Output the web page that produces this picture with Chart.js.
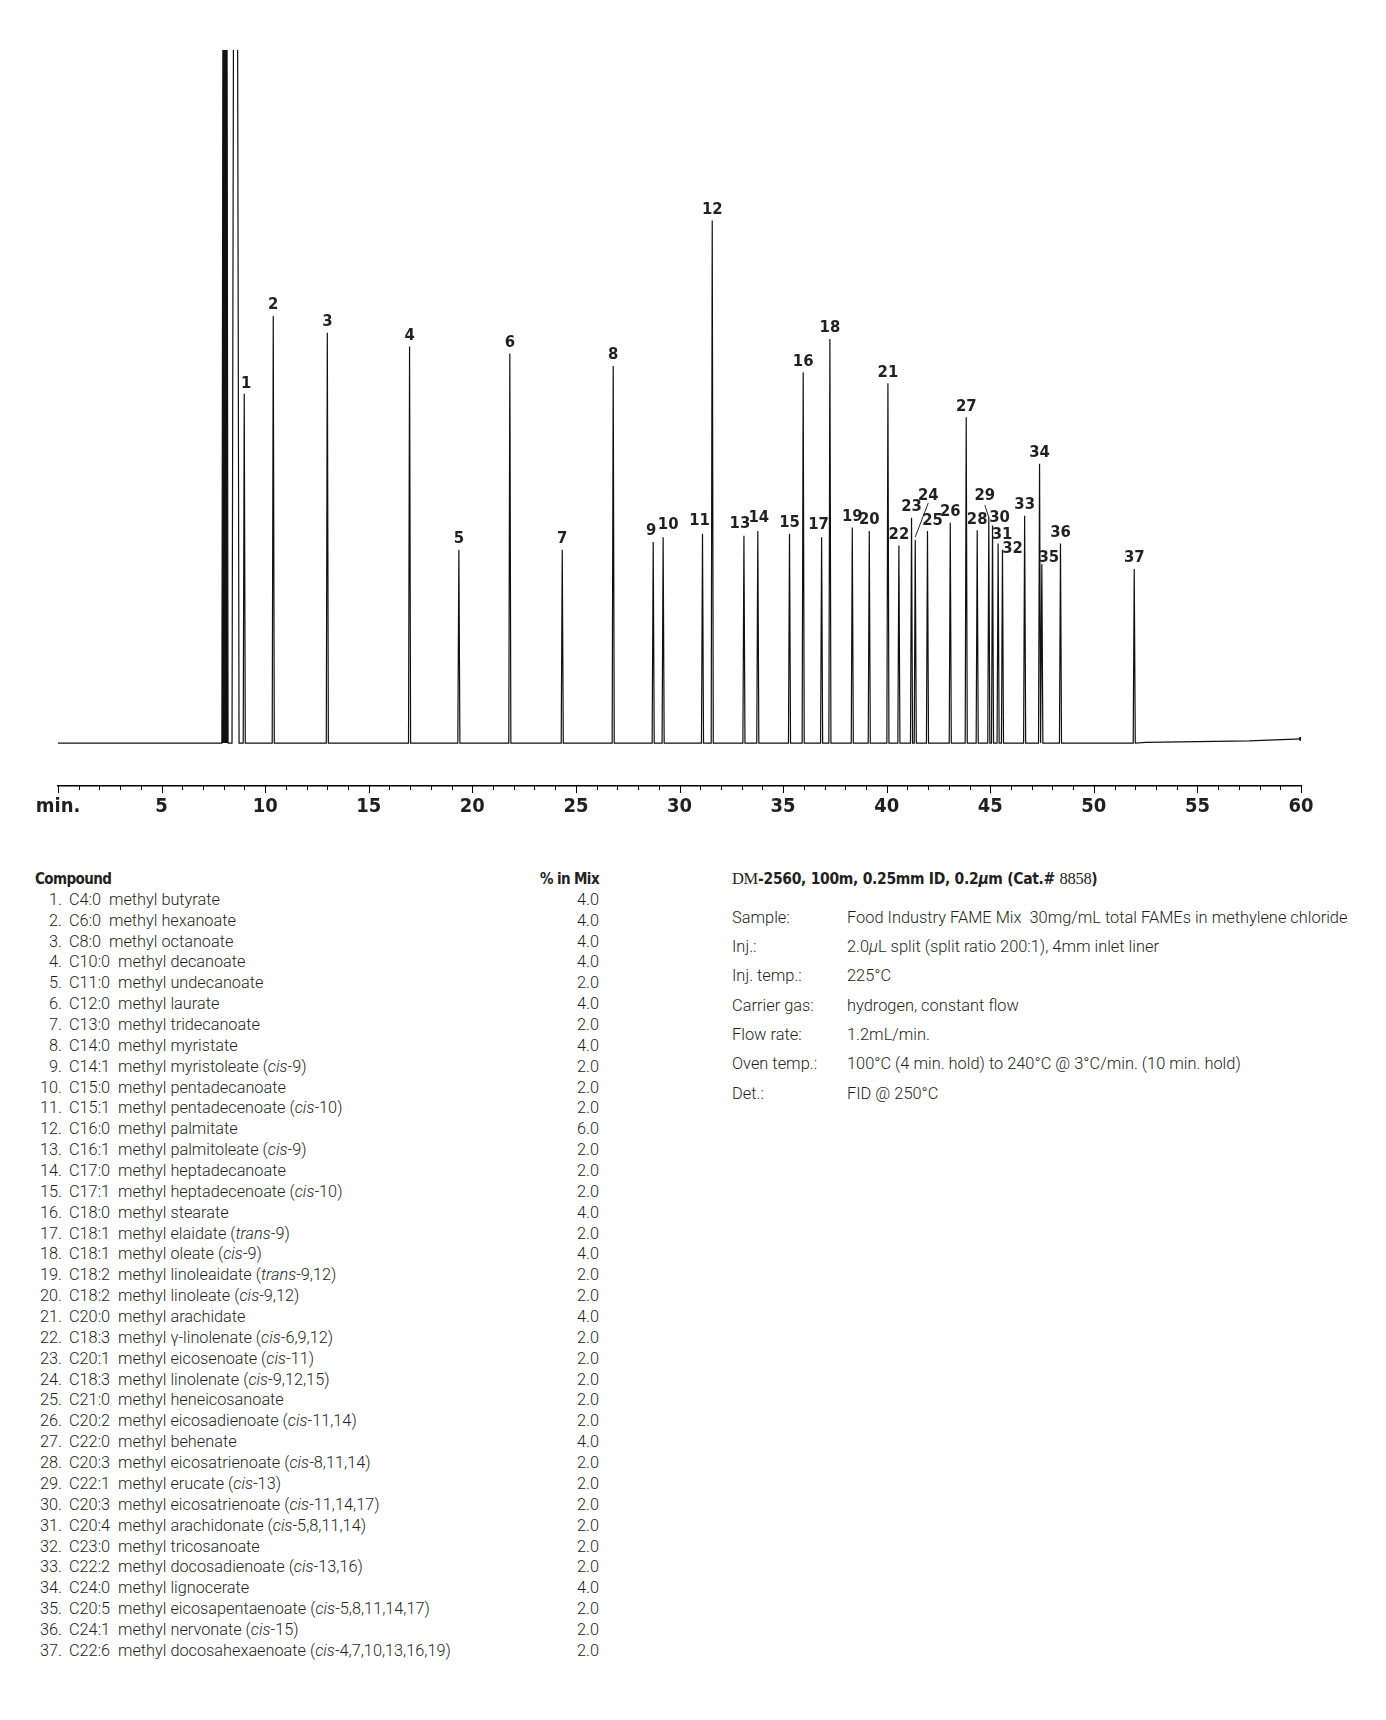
<!DOCTYPE html>
<html>
<head>
<meta charset="utf-8">
<script src="https://cdn.jsdelivr.net/npm/chart.js@4.4.1/dist/chart.umd.min.js"></script>
<style>
  body { margin: 0; background: #fff; width: 1386px; height: 1720px; position: relative; color: #231f20;
         font-family: Roboto, "DejaVu Sans Condensed", sans-serif; font-weight: 300; }
  #wrap { position: absolute; left: 0; top: 0; width: 1386px; height: 840px; }
  #compounds { position: absolute; left: 0; top: 869px; width: 620px; font-size: 16.3px; }
  #compounds .row { position: relative; height: 20.87px; line-height: 20.87px; white-space: pre; }
  #compounds .num { display: inline-block; width: 62px; text-align: right; }
  #compounds .txt { margin-left: 7px; }
  #compounds .pct { position: absolute; right: 21px; top: 0; }
  #compounds .head { font-family: "DejaVu Sans Condensed", sans-serif; font-weight: bold; font-size: 15px; letter-spacing: -0.6px; }
  #compounds .head .left { position: absolute; left: 35px; }
  #info { position: absolute; left: 732px; top: 864px; font-size: 16.4px; }
  #info .title { font-family: "DejaVu Sans Condensed", sans-serif; font-weight: bold; font-size: 15.5px;
                 letter-spacing: -0.3px; height: 38.5px; line-height: 30px; }
  #info .title .serif { font-family: "Liberation Serif", "DejaVu Serif", serif; font-weight: normal; font-size: 16.5px; }
  #info .row { height: 29.4px; line-height: 29.4px; white-space: pre; }
  #info .lab { display: inline-block; width: 115px; }
</style>
</head>
<body>
<div id="wrap"><canvas id="chart" width="1386" height="840"></canvas></div>
<div id="compounds"></div>
<div id="info"></div>
<script>
// retention time (min) and height (% of full scale) of each numbered peak
const retentionTimes = [8.99, 10.39, 13.00, 16.97, 19.35, 21.81, 24.34, 26.80, 28.73, 29.21,
  31.11, 31.58, 33.11, 33.78, 35.31, 35.97, 36.86, 37.26, 38.34, 39.16,
  40.06, 40.59, 41.20, 41.38, 41.97, 43.07, 43.84, 44.37, 44.93, 45.11,
  45.38, 45.59, 46.66, 47.38, 47.49, 48.39, 51.95];
const peakHeights = [50.4, 61.6, 59.2, 57.2, 27.9, 56.2, 27.9, 54.4, 29.0, 29.7,
  30.2, 75.4, 29.9, 30.6, 30.2, 53.5, 29.7, 58.3, 31.1, 30.6,
  51.9, 28.5, 32.5, 29.3, 30.6, 31.8, 47.0, 30.7, 32.6, 31.4,
  28.8, 27.9, 32.8, 40.3, 25.8, 28.8, 25.1];
// solvent peaks, off scale
const solventTimes = [8.06, 8.57];
const solventHeights = [300, 250];
// baseline drift at the end of the run
const baselineTimes = [0, 52.5, 57.5, 60];
const baselineLevels = [0, 0.1, 0.3, 0.6];

const tickLabels = ['min.', '5', '10', '15', '20', '25', '30', '35', '40', '45', '50', '55', '60'];

const formulas = ['C4:0', 'C6:0', 'C8:0', 'C10:0', 'C11:0', 'C12:0', 'C13:0', 'C14:0', 'C14:1', 'C15:0',
  'C15:1', 'C16:0', 'C16:1', 'C17:0', 'C17:1', 'C18:0', 'C18:1', 'C18:1', 'C18:2', 'C18:2',
  'C20:0', 'C18:3', 'C20:1', 'C18:3', 'C21:0', 'C20:2', 'C22:0', 'C20:3', 'C22:1', 'C20:3',
  'C20:4', 'C23:0', 'C22:2', 'C24:0', 'C20:5', 'C24:1', 'C22:6'];
const compoundNames = ['methyl butyrate', 'methyl hexanoate', 'methyl octanoate', 'methyl decanoate',
  'methyl undecanoate', 'methyl laurate', 'methyl tridecanoate', 'methyl myristate',
  'methyl myristoleate (cis-9)', 'methyl pentadecanoate', 'methyl pentadecenoate (cis-10)',
  'methyl palmitate', 'methyl palmitoleate (cis-9)', 'methyl heptadecanoate',
  'methyl heptadecenoate (cis-10)', 'methyl stearate', 'methyl elaidate (trans-9)',
  'methyl oleate (cis-9)', 'methyl linoleaidate (trans-9,12)', 'methyl linoleate (cis-9,12)',
  'methyl arachidate', 'methyl γ-linolenate (cis-6,9,12)', 'methyl eicosenoate (cis-11)',
  'methyl linolenate (cis-9,12,15)', 'methyl heneicosanoate', 'methyl eicosadienoate (cis-11,14)',
  'methyl behenate', 'methyl eicosatrienoate (cis-8,11,14)', 'methyl erucate (cis-13)',
  'methyl eicosatrienoate (cis-11,14,17)', 'methyl arachidonate (cis-5,8,11,14)',
  'methyl tricosanoate', 'methyl docosadienoate (cis-13,16)', 'methyl lignocerate',
  'methyl eicosapentaenoate (cis-5,8,11,14,17)', 'methyl nervonate (cis-15)',
  'methyl docosahexaenoate (cis-4,7,10,13,16,19)'];
const percentInMix = [4.0, 4.0, 4.0, 4.0, 2.0, 4.0, 2.0, 4.0, 2.0, 2.0,
  2.0, 6.0, 2.0, 2.0, 2.0, 4.0, 2.0, 4.0, 2.0, 2.0,
  4.0, 2.0, 2.0, 2.0, 2.0, 2.0, 4.0, 2.0, 2.0, 2.0,
  2.0, 2.0, 2.0, 4.0, 2.0, 2.0, 2.0];

const infoLabels = ['Sample:', 'Inj.:', 'Inj. temp.:', 'Carrier gas:', 'Flow rate:', 'Oven temp.:', 'Det.:'];
const infoValues = ['Food Industry FAME Mix  30mg/mL total FAMEs in methylene chloride',
  '2.0<i>µ</i>L split (split ratio 200:1), 4mm inlet liner', '225°C', 'hydrogen, constant flow',
  '1.2mL/min.', '100°C (4 min. hold) to 240°C @ 3°C/min. (10 min. hold)', 'FID @ 250°C'];

// label nudges (px) where the printed label is not straight above the peak
const labelNudge = { 1: [2, -10], 9: [-2, -11], 10: [5, -12], 11: [-3, -13], 13: [-4, -12], 14: [1, -13],
  17: [-3, -12], 24: [13, -44], 25: [5, -10], 29: [-4, -21], 30: [7, -8], 31: [4, -9], 32: [10, -1], 35: [7, -7] };
const leaders = { 24: [13, -37, 0, -3], 29: [-4, -12, 0, 0] };

const condensed = '"Liberation Sans Narrow", "DejaVu Sans Condensed", sans-serif';
const halfWidth = 0.05;

// build the trace
let pts = [];
baselineTimes.forEach((t, i) => pts.push({ x: t, y: baselineLevels[i] }));
solventTimes.forEach((t, i) => {
  const w = i === 0 ? 0.15 : 0.17;
  pts.push({ x: t - w, y: 0 }, { x: t, y: solventHeights[i] }, { x: t + w, y: 0 });
});
retentionTimes.forEach((t, i) => {
  pts.push({ x: t - halfWidth, y: 0 }, { x: t, y: peakHeights[i] }, { x: t + halfWidth, y: 0 });
});
pts.sort((a, b) => a.x - b.x);
// first solvent peak is printed solid black
const solventFill = [{ x: solventTimes[0] - 0.15, y: 0 }, { x: solventTimes[0], y: solventHeights[0] },
  { x: solventTimes[0] + 0.15, y: 0 }];

const peakLabels = {
  id: 'peakLabels',
  afterDatasetsDraw(chart) {
    const c = chart.ctx, xs = chart.scales.x, ys = chart.scales.y;
    c.save();
    c.font = 'bold 16.5px ' + condensed;
    c.fillStyle = '#231f20';
    c.textAlign = 'center';
    c.textBaseline = 'middle';
    retentionTimes.forEach((t, i) => {
      const n = i + 1;
      const px = xs.getPixelForValue(t), py = ys.getPixelForValue(peakHeights[i]);
      const d = labelNudge[n] || [0, -11];
      c.fillText(String(n), px + d[0], py + d[1]);
      if (leaders[n]) {
        const l = leaders[n];
        c.strokeStyle = '#231f20';
        c.lineWidth = 1;
        c.beginPath();
        c.moveTo(px + l[0], py + l[1]);
        c.lineTo(px + l[2], py + l[3]);
        c.stroke();
      }
    });
    // tick marks, 1 min apart
    const yb = chart.chartArea.bottom;
    c.strokeStyle = '#000';
    c.lineWidth = 1;
    for (let t = 0; t <= 60; t++) {
      const px = Math.round(xs.getPixelForValue(t)) + 0.5;
      c.beginPath();
      c.moveTo(px, yb);
      c.lineTo(px, yb + (t % 5 === 0 ? 7 : 4));
      c.stroke();
    }
    c.restore();
  }
};

new Chart(document.getElementById('chart'), {
  type: 'line',
  data: {
    datasets: [{
      data: pts,
      borderColor: '#111',
      borderWidth: 1.2,
      tension: 0,
      pointRadius: ctx => (ctx.dataIndex === pts.length - 1 ? 2.2 : 0),
      pointBackgroundColor: '#111',
      pointBorderWidth: 0
    }, {
      data: solventFill,
      borderWidth: 0,
      pointRadius: 0,
      fill: 'origin',
      backgroundColor: '#111',
      tension: 0
    }]
  },
  options: {
    responsive: false,
    animation: false,
    devicePixelRatio: 1,
    layout: { padding: { left: 58, right: 85, top: 50, bottom: 14 } },
    plugins: { legend: { display: false }, tooltip: { enabled: false } },
    scales: {
      x: {
        type: 'linear', min: 0, max: 60,
        grid: { drawOnChartArea: false, drawTicks: false },
        border: { display: true, color: '#000', width: 1.5 },
        ticks: {
          stepSize: 5, autoSkip: false, maxRotation: 0, padding: 9, color: '#231f20',
          font: { family: condensed, size: 20, weight: 'bold' },
          callback: v => tickLabels[v / 5]
        },
        afterFit: s => { s.height = 40; }
      },
      y: { display: false, min: -6.2, max: 100 }
    }
  },
  plugins: [peakLabels]
});

// compound table
const ital = s => s.replace(/\((cis|trans)-/, '(<i>$1</i>-');
let html = '<div class="row head"><span class="left">Compound</span><span class="pct">% in Mix</span></div>';
formulas.forEach((f, i) => {
  html += '<div class="row"><span class="num">' + (i + 1) + '.</span><span class="txt">' + f + '  ' +
    ital(compoundNames[i]) + '</span><span class="pct">' + percentInMix[i].toFixed(1) + '</span></div>';
});
document.getElementById('compounds').innerHTML = html;

let info = '<div class="title"><span class="serif">DM</span>-2560, 100m, 0.25mm ID, 0.2<i>µ</i>m (Cat.# <span class="serif">8858</span>)</div>';
infoLabels.forEach((l, i) => {
  info += '<div class="row"><span class="lab">' + l + '</span>' + infoValues[i] + '</div>';
});
document.getElementById('info').innerHTML = info;
</script>
</body>
</html>
